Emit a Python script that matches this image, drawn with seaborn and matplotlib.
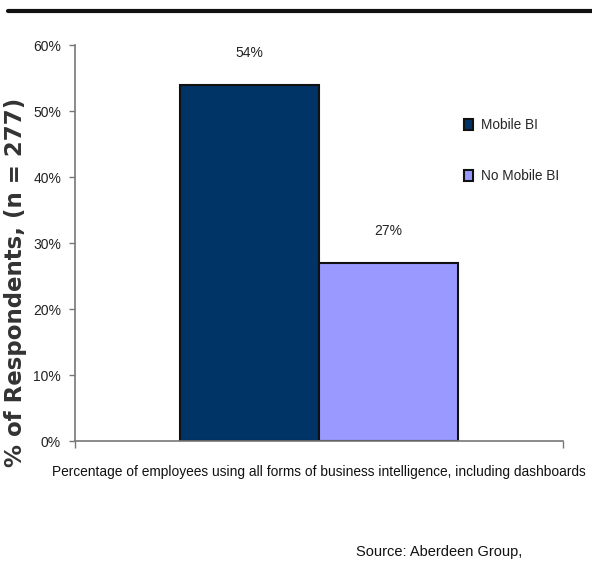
import matplotlib
matplotlib.use("Agg")
import matplotlib.pyplot as plt
import seaborn as sns
import pandas as pd
from matplotlib.lines import Line2D
from matplotlib.ticker import FuncFormatter

categories = ["Percentage of employees using all forms of business intelligence, including dashboards"]
groups = ["Mobile BI", "No Mobile BI"]
values = [54, 27]
colors = ["#003366", "#9999ff"]
y_ticks = [0, 10, 20, 30, 40, 50, 60]

sns.set_theme(style="white")
base = ["Liberation Sans", "DejaVu Sans"]
plt.rcParams["font.family"] = base

df = pd.DataFrame({"category": categories * len(groups), "group": groups, "value": values})

fig = plt.figure(figsize=(5.92, 5.69), dpi=100)
ax = fig.add_axes([0.1267, 0.2249, 0.951 - 0.1267, 0.6960])

sns.barplot(data=df, x="category", y="value", hue="group", palette=colors,
            saturation=1, width=0.57, edgecolor="#111111", linewidth=1.5, ax=ax, legend=True)

ax.set_xlim(-0.5, 0.5)
ax.set_ylim(0, 60)
ax.set_yticks(y_ticks)
ax.yaxis.set_major_formatter(FuncFormatter(lambda v, p: f"{int(v)}%"))
ax.tick_params(axis="y", which="major", left=True, length=4, width=1, color="#777777",
               labelsize=10, pad=6, labelcolor="#222222")
ax.tick_params(axis="x", which="major", length=0, labelsize=9.9, pad=17, labelcolor="#111111")
ax.set_xticks([-0.5, 0.5], minor=True)
ax.tick_params(axis="x", which="minor", bottom=True, length=5, width=1, color="#777777")

for s in ["top", "right"]:
    ax.spines[s].set_visible(False)
for s in ["left", "bottom"]:
    ax.spines[s].set_color("#777777")
    ax.spines[s].set_linewidth(1.2)

ax.set_xlabel("")
ax.set_ylabel("% of Respondents, (n = 277)", fontsize=16.5, fontweight="bold",
              family=["DejaVu Sans"], color="#333333")
ax.yaxis.set_label_coords(-0.098, 0.40)

for cont in ax.containers:
    ax.bar_label(cont, labels=[f"{int(v)}%" for v in cont.datavalues], padding=18,
                 fontsize=10, color="#222222")

h, l = ax.get_legend_handles_labels()
ax.legend(h, l, loc="upper left", bbox_to_anchor=(0.798, 0.815), frameon=False,
          fontsize=9.8, handlelength=0.65, handleheight=0.9, handletextpad=0.6,
          labelspacing=2.7, borderpad=0, borderaxespad=0)

fig.add_artist(Line2D([0.013, 1.0], [1 - 11 / 569, 1 - 11 / 569], color="#111111", lw=3))
fig.text(0.882, 1 - 552 / 569, "Source: Aberdeen Group,", ha="right", va="center",
         fontsize=10.5, color="#111111")

fig.savefig("out.png", dpi=100)
